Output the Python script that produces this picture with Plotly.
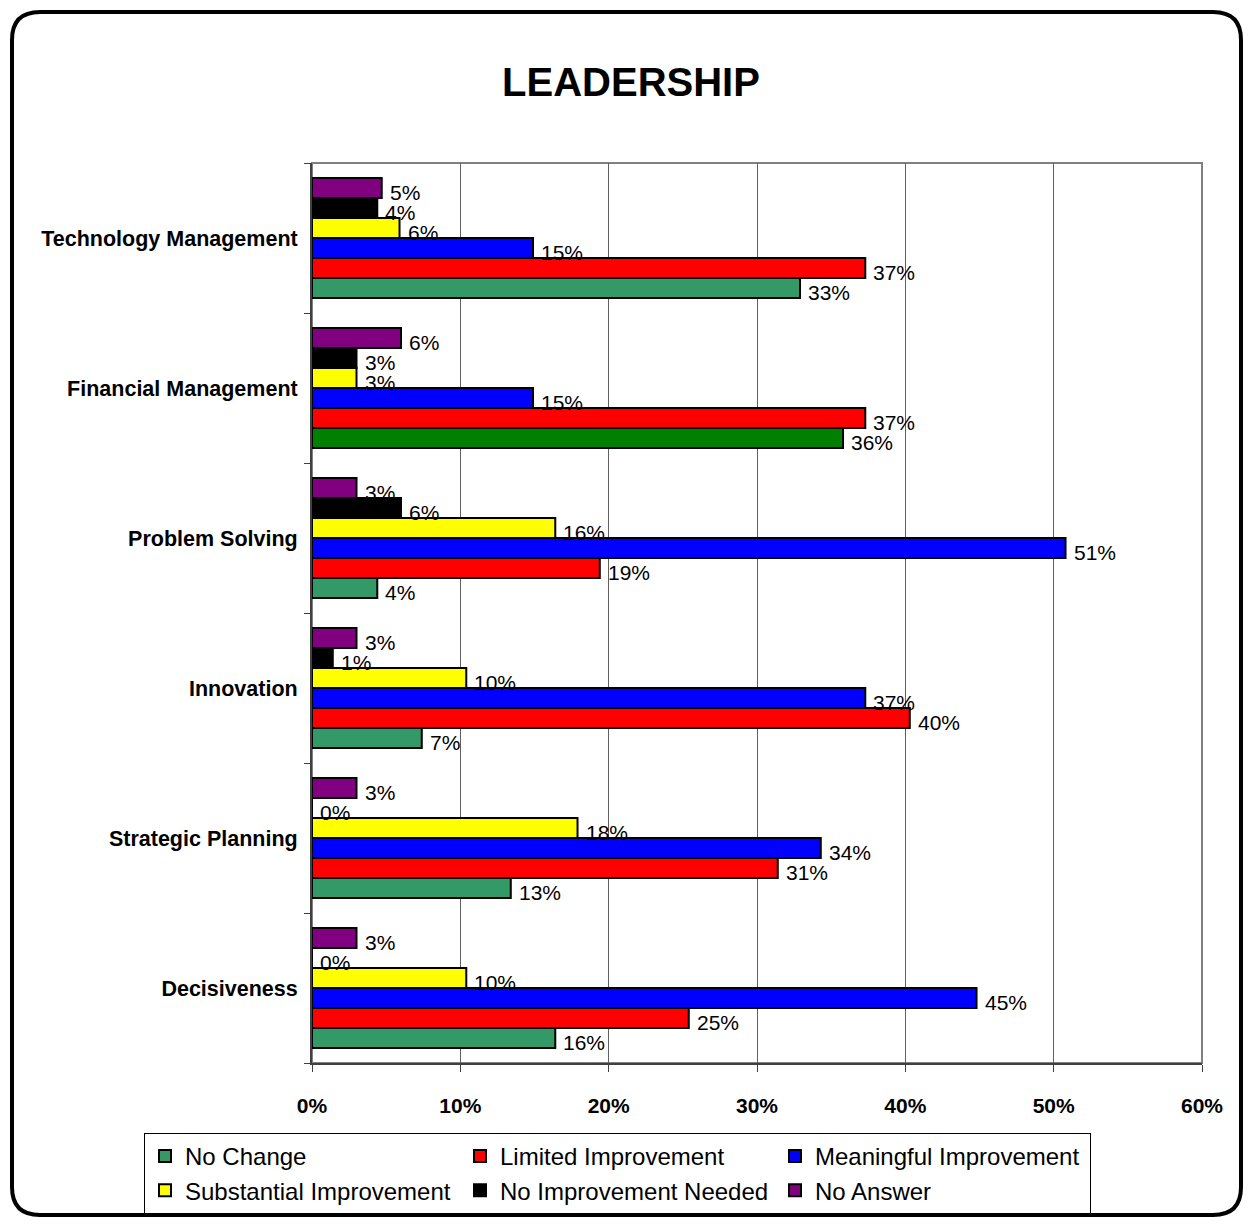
import plotly.graph_objects as go

# ---- data ----
categories = ["Decisiveness", "Strategic Planning", "Innovation",
              "Problem Solving", "Financial Management", "Technology Management"]
series_names = ["No Change", "Limited Improvement", "Meaningful Improvement",
                "Substantial Improvement", "No Improvement Needed", "No Answer"]
no_change = [16.4, 13.4, 7.4, 4.4, 35.8, 32.9]
limited = [25.4, 31.4, 40.3, 19.4, 37.3, 37.3]
meaningful = [44.8, 34.3, 37.3, 50.8, 14.9, 14.9]
substantial = [10.4, 17.9, 10.4, 16.4, 3.0, 5.9]
no_improvement_needed = [0.0, 0.0, 1.4, 6.0, 3.0, 4.4]
no_answer = [3.0, 3.0, 3.0, 3.0, 6.0, 4.7]
x_ticks = [0, 10, 20, 30, 40, 50, 60]
x_tick_labels = ["0%", "10%", "20%", "30%", "40%", "50%", "60%"]

series_values = [no_change, limited, meaningful, substantial, no_improvement_needed, no_answer]
colors = ["#339966", "#FF0000", "#0000FF", "#FFFF00", "#000000", "#800080"]
# Financial Management "No Change" bar is drawn in a darker green
no_change_colors = ["#008000" if c == "Financial Management" else "#339966" for c in categories]

FONT = "Liberation Sans, Arial, sans-serif"
OFF = 8                      # page body margin in the browser
W, H = 1252 - OFF, 1226 - 2 * OFF
ML = 312 - OFF
PR = 1202 - OFF              # plot right edge (figure px)
PT = 163 - OFF               # plot top
PB = 1063 - OFF              # plot bottom
MR, MT, MB = W - PR, PT, H - PB
PW, PH = W - ML - MR, H - MT - MB
BARGAP = 0.2


def px(x):
    """reference-screen x pixel -> paper fraction"""
    return (x - OFF - ML) / PW


def py(y):
    """reference-screen y pixel -> paper fraction"""
    return (PB - (y - OFF)) / PH


fig = go.Figure()
n_series = len(series_names)
group_w = 1 - BARGAP
annotations = []
for si, (name, vals, col) in enumerate(zip(series_names, series_values, colors)):
    mcol = no_change_colors if name == "No Change" else col
    fig.add_trace(go.Bar(
        y=categories, x=vals, name=name, orientation="h",
        marker=dict(color=mcol, line=dict(color="#000000", width=2)),
    ))
    # value labels placed just past the end of each bar (category-axis positions)
    offset = -group_w / 2 + (si + 0.5) * group_w / n_series
    for ci, v in enumerate(vals):
        annotations.append(dict(
            x=v, y=ci + offset, xref="x", yref="y",
            text=f"{v:.0f}%", showarrow=False,
            xanchor="left", yanchor="middle", xshift=6, yshift=-4,
            font=dict(family=FONT, size=21, color="#000000"),
        ))

# rounded outer frame (kept inside the drawable page)
L, R, T, B, r = 12, 1241, 12, OFF + H - 3, 28
path = (f"M {px(L + r)},{py(T)} L {px(R - r)},{py(T)} Q {px(R)},{py(T)} {px(R)},{py(T + r)} "
        f"L {px(R)},{py(B - r)} Q {px(R)},{py(B)} {px(R - r)},{py(B)} "
        f"L {px(L + r)},{py(B)} Q {px(L)},{py(B)} {px(L)},{py(B - r)} "
        f"L {px(L)},{py(T + r)} Q {px(L)},{py(T)} {px(L + r)},{py(T)} Z")

shapes = [
    dict(type="path", path=path, xref="paper", yref="paper",
         line=dict(color="#000000", width=4), layer="below"),
    dict(type="rect", xref="paper", yref="paper", x0=0, x1=1, y0=0, y1=1,
         line=dict(color="#808080", width=2), layer="below"),
]

fig.update_layout(
    width=W, height=H,
    margin=dict(l=ML, r=MR, t=MT, b=MB, autoexpand=False),
    paper_bgcolor="white", plot_bgcolor="white",
    barmode="group", bargap=BARGAP, bargroupgap=0,
    title=dict(text="<b>LEADERSHIP</b>", x=(631 - OFF) / W, xref="container", xanchor="center",
               y=1 - (82 - OFF) / H, yref="container", yanchor="middle",
               font=dict(family=FONT, size=40, color="#000000")),
    font=dict(family=FONT, color="#000000"),
    xaxis=dict(range=[0, 60], tickmode="array", tickvals=x_ticks, ticktext=x_tick_labels,
               showgrid=True, gridcolor="#606060", gridwidth=1,
               showline=True, linecolor="#404040", linewidth=2,
               ticks="outside", ticklen=7, tickcolor="#404040", tickwidth=1,
               ticklabelstandoff=16,
               tickfont=dict(family=FONT, size=21, color="#000000", weight="bold"),
               zeroline=False, fixedrange=True),
    yaxis=dict(type="category", categoryorder="array", categoryarray=categories,
               range=[-0.5, len(categories) - 0.5],
               showline=True, linecolor="#404040", linewidth=2,
               ticks="outside", ticklen=6, tickcolor="#404040", tickwidth=1,
               tickson="boundaries", ticklabelstandoff=8,
               tickfont=dict(family=FONT, size=21.5, color="#000000", weight="bold"),
               showgrid=False, fixedrange=True),
    legend=dict(orientation="h", x=px(144), xanchor="left", y=py(1133), yanchor="top",
                xref="paper", yref="paper",
                bgcolor="white", bordercolor="#000000", borderwidth=1,
                font=dict(family=FONT, size=24, color="#000000"),
                entrywidth=270, entrywidthmode="pixels",
                itemwidth=30, traceorder="normal"),
    annotations=annotations,
    shapes=shapes,
    showlegend=True,
)

fig.write_html("out.html")
